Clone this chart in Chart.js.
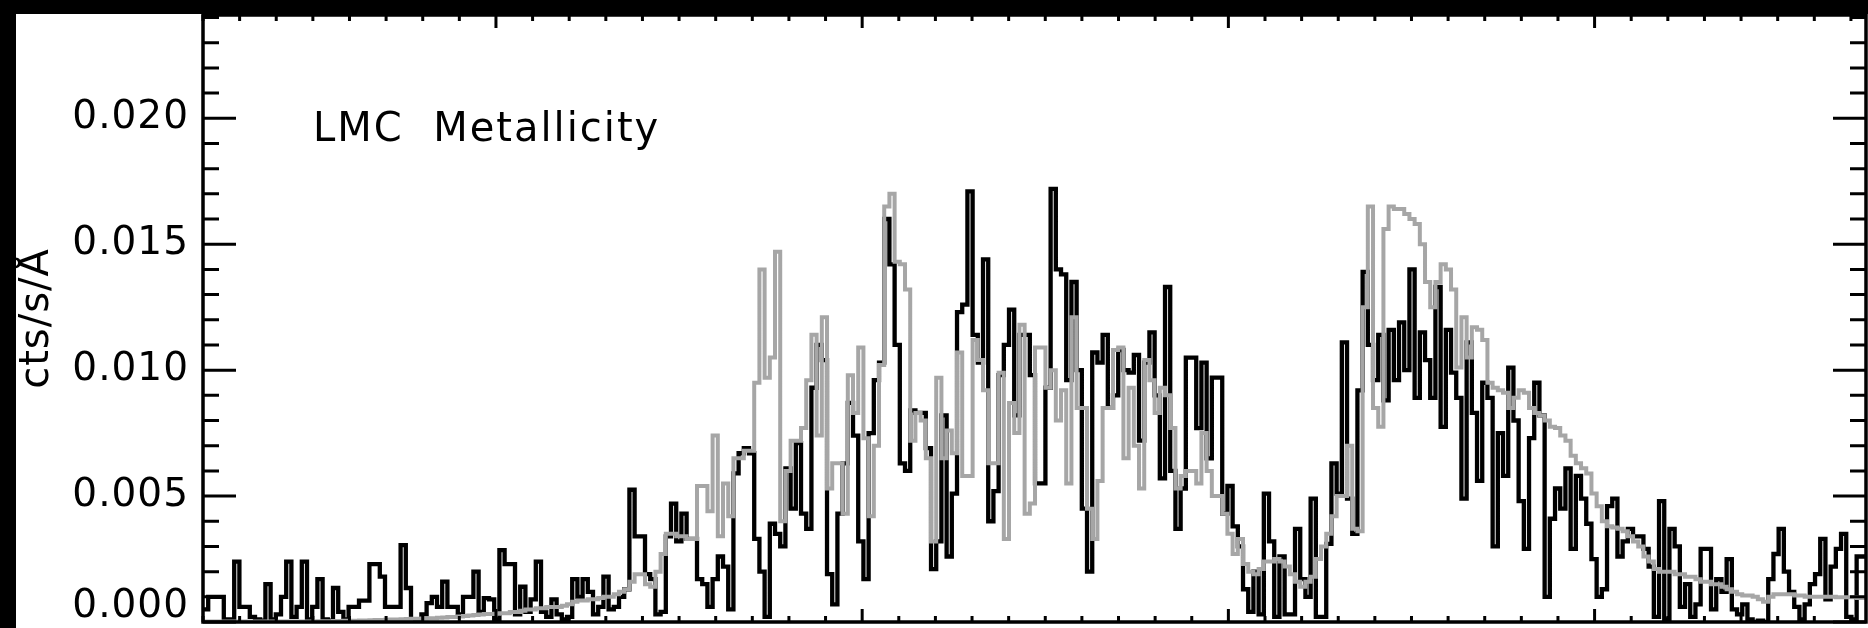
<!DOCTYPE html>
<html>
<head>
<meta charset="utf-8">
<title>LMC Metallicity</title>
<script src="https://cdn.jsdelivr.net/npm/chart.js@4.4.1/dist/chart.umd.min.js"></script>
<style>
  html, body { margin: 0; padding: 0; background: #000; }
  #spectrum { display: block; }
</style>
</head>
<body>
<canvas id="spectrum" width="1868" height="628"></canvas>
<script>
// wavelength grid (Å): left edge of first bin, bin width
const lamStart = 2.0;
const binWidth = 0.142;

// observed counts, black histogram (units of 1e-3 cts/s/Å)
const observed = [
  0.5, 1.0, 1.0, 1.0, 0.1, 0.1, 2.4, 0.6, 0.6, 0.2,
  0.1, 0.05, 1.5, 0.1, 0.3, 1.0, 2.4, 0.2, 0.6, 2.4,
  0.1, 0.6, 1.7, 0.1, 0.05, 1.35, 0.4, 0.1, 0.6, 0.6,
  0.85, 0.85, 2.3, 2.3, 1.8, 0.6, 0.6, 0.6, 3.05, 1.35,
  0.1, 0.1, 0.3, 0.75, 1.0, 0.6, 1.6, 0.6, 0.6, 0.3,
  1.0, 1.0, 2.0, 0.4, 0.95, 0.9, 0.1, 2.85, 2.3, 2.3,
  0.3, 1.4, 0.4, 0.9, 2.4, 0.4, 0.2, 0.9, 0.3, 0.1,
  0.2, 1.7, 1.0, 1.7, 1.2, 0.3, 0.6, 1.8, 0.5, 0.6,
  1.0, 1.3, 5.25, 3.4, 3.4, 1.9, 1.7, 0.3, 0.4, 3.4,
  4.7, 3.2, 4.3, 3.3, 3.3, 1.7, 1.5, 0.6, 1.7, 2.6,
  2.2, 0.5, 5.9, 6.7, 6.9, 6.7, 3.3, 2.0, 0.2, 3.9,
  3.5, 3.0, 6.1, 4.5, 7.1, 4.3, 3.7, 9.3, 11.0, 10.4,
  1.9, 0.7, 4.3, 6.3, 8.7, 7.4, 3.2, 1.7, 7.5, 9.6,
  10.3, 16.0, 14.2, 11.0, 6.3, 6.0, 8.4, 8.3, 8.3, 6.9,
  2.1, 3.2, 8.2, 2.6, 5.1, 12.3, 12.6, 17.1, 11.4, 10.3,
  14.4, 4.0, 5.2, 9.8, 11.0, 12.4, 8.2, 11.4, 11.4, 9.8,
  5.5, 5.5, 9.3, 17.2, 14.0, 13.8, 9.6, 13.5, 10.0, 4.5,
  2.0, 10.7, 10.3, 11.4, 8.5, 9.0, 10.8, 10.0, 9.9, 10.6,
  7.2, 10.3, 11.5, 9.0, 5.7, 13.3, 6.0, 3.7, 5.3, 10.5,
  10.5, 7.7, 10.3, 6.5, 9.7, 9.7, 4.3, 5.4, 3.8, 3.0,
  1.3, 0.4, 2.0, 0.3, 5.1, 3.2, 0.2, 2.6, 0.3, 0.3,
  3.7, 1.7, 1.0, 4.9, 0.2, 0.2, 3.1, 6.3, 5.1, 11.1,
  4.9, 3.5, 9.2, 13.9, 11.0, 9.6, 11.4, 8.8, 11.6, 9.6,
  11.9, 10.0, 14.0, 8.9, 11.5, 10.4, 8.9, 13.3, 7.75, 11.6,
  9.9, 8.9, 4.9, 11.1, 8.3, 5.6, 9.5, 8.9, 3.0, 7.5,
  5.8, 10.1, 8.0, 4.8, 2.9, 7.3, 9.5, 8.2, 1.0, 4.1,
  5.3, 4.5, 6.1, 2.9, 5.8, 4.9, 3.9, 2.5, 1.0, 1.3,
  4.6, 4.9, 2.6, 3.2, 3.7, 3.4, 3.4, 2.9, 2.2, 0.2,
  4.8, 0.1, 3.7, 3.0, 0.6, 1.5, 0.2, 0.7, 2.9, 2.9,
  0.5, 1.7, 1.2, 2.5, 0.5, 0.3, 0.7, 0.1, 0.0, 0.05,
  0.0, 1.7, 2.7, 3.7, 2.0, 1.2, 0.6, 0.1, 0.7, 1.5,
  1.9, 3.3, 0.9, 2.2, 2.9, 3.5, 0.2, 0.1, 2.6, 2.6, 2.6
];

// model, grey histogram (same units)
const model = [
  0.02, 0.02, 0.02, 0.02, 0.02, 0.02, 0.02, 0.02, 0.02, 0.02,
  0.02, 0.02, 0.02, 0.02, 0.02, 0.02, 0.02, 0.02, 0.02, 0.02,
  0.02, 0.02, 0.03, 0.03, 0.03, 0.04, 0.04, 0.05, 0.05, 0.05,
  0.06, 0.06, 0.07, 0.08, 0.08, 0.09, 0.1, 0.1, 0.11, 0.12,
  0.13, 0.13, 0.14, 0.15, 0.15, 0.17, 0.18, 0.2, 0.2, 0.22,
  0.24, 0.26, 0.28, 0.3, 0.32, 0.32, 0.33, 0.35, 0.35, 0.4,
  0.4, 0.45, 0.5, 0.5, 0.55, 0.55, 0.6, 0.6, 0.6, 0.65,
  0.7, 0.8, 0.85, 0.85, 0.9, 0.9, 0.95, 1.0, 1.0, 1.1,
  1.2, 1.3, 1.6, 1.9, 1.9, 1.5, 1.4, 2.0, 2.7, 3.5,
  3.5, 3.4, 3.4, 3.3, 3.3, 5.4, 5.4, 4.4, 7.4, 3.4,
  5.5, 4.2, 6.5, 6.5, 6.8, 6.8, 9.5, 14.0, 9.7, 10.5,
  14.7, 4.0, 6.0, 7.2, 7.2, 7.7, 9.6, 11.4, 7.4, 12.1,
  5.3, 6.3, 6.3, 4.3, 9.8, 8.3, 10.9, 7.3, 4.2, 7.0,
  10.2, 16.5, 17.0, 14.3, 14.2, 13.2, 7.2, 8.3, 8.0, 6.5,
  3.2, 9.7, 6.5, 7.6, 6.7, 10.7, 5.8, 5.8, 11.2, 10.4,
  9.2, 6.3, 6.3, 9.9, 3.3, 8.7, 7.5, 11.8, 4.3, 4.7,
  10.9, 10.9, 9.3, 10.0, 8.0, 9.2, 5.5, 12.1, 8.5, 8.5,
  4.5, 3.3, 5.6, 8.5, 8.5, 10.8, 10.9, 6.5, 9.3, 7.0,
  5.3, 10.4, 9.6, 8.3, 9.3, 9.0, 7.7, 5.3, 5.8, 6.0,
  6.0, 5.5, 7.5, 6.0, 5.0, 5.0, 4.3, 3.5, 2.7, 3.3,
  2.3, 2.0, 1.9, 2.1, 2.4, 2.4, 2.5, 2.4, 2.2, 1.9,
  1.6, 1.4, 1.6, 1.8, 2.5, 3.0, 3.5, 4.2, 5.0, 5.0,
  7.0, 3.7, 3.6, 12.5, 16.5, 8.5, 7.75, 15.6, 16.5, 16.4,
  16.4, 16.2, 16.0, 15.8, 15.0, 13.5, 12.5, 13.5, 14.2, 14.0,
  13.2, 10.1, 12.1, 10.5, 11.7, 11.6, 11.2, 9.5, 9.3, 9.2,
  9.1, 8.5, 8.9, 9.2, 9.1, 8.5, 8.3, 8.2, 8.0, 7.75,
  7.7, 7.4, 7.2, 6.6, 6.3, 6.1, 5.9, 5.1, 4.6, 4.0,
  3.8, 3.75, 3.7, 3.6, 3.4, 3.2, 3.0, 2.6, 2.4, 2.1,
  2.0, 2.0, 2.0, 1.9, 1.9, 1.8, 1.8, 1.7, 1.6, 1.6,
  1.5, 1.5, 1.4, 1.3, 1.2, 1.1, 1.05, 1.05, 1.0, 0.9,
  0.8, 1.0, 1.1, 1.1, 1.1, 1.1, 1.05, 1.05, 1.0, 1.0,
  1.0, 1.0, 1.0, 1.0, 0.98, 0.98, 0.98, 0.98, 0.95, 0.95, 0.95
];

const yTickValues = [0, 5, 10, 15, 20];
const yTickLabels = ['0.000', '0.005', '0.010', '0.015', '0.020'];
const yTitle = 'cts/s/Å';
const panelLabel = 'LMC  Metallicity';

const toPoints = vals => vals.map((v, i) => ({ x: lamStart + i * binWidth, y: v }));

// white page, inward IDL-style ticks on all four sides, panel label
const frame = {
  id: 'frame',
  beforeDraw(chart) {
    const ctx = chart.ctx;
    ctx.save();
    ctx.fillStyle = '#000';
    ctx.fillRect(0, 0, chart.width, chart.height);
    ctx.fillStyle = '#fff';
    ctx.fillRect(16, 14, chart.width - 16, chart.height - 14);
    ctx.restore();
    ctx.letterSpacing = '1px';
  },
  afterDraw(chart) {
    const { ctx, chartArea: a, scales: { x, y } } = chart;
    ctx.save();
    ctx.strokeStyle = '#000';
    ctx.lineWidth = 3;
    ctx.beginPath();
    for (let v = 0; v <= y.max; v++) {
      const py = y.getPixelForValue(v);
      const len = v % 5 === 0 ? 33 : 16;
      ctx.moveTo(a.left, py); ctx.lineTo(a.left + len, py);
      ctx.moveTo(a.right, py); ctx.lineTo(a.right - len, py);
    }
    for (let w = Math.ceil(x.min); w <= x.max; w++) {
      const px = x.getPixelForValue(w);
      const len = w % 10 === 0 ? 13 : 6;
      ctx.moveTo(px, a.top); ctx.lineTo(px, a.top + len);
      ctx.moveTo(px, a.bottom); ctx.lineTo(px, a.bottom - len);
    }
    ctx.stroke();
    ctx.lineWidth = 3.5;
    ctx.strokeRect(a.left, a.top, a.right - a.left, a.bottom - a.top);

    ctx.letterSpacing = '2px';
    ctx.fillStyle = '#000';
    ctx.font = '40px "DejaVu Sans"';
    ctx.textAlign = 'left';
    ctx.textBaseline = 'alphabetic';
    ctx.fillText(panelLabel, a.left + 110, a.top + 126);
    ctx.restore();
  }
};

new Chart(document.getElementById('spectrum'), {
  type: 'line',
  data: {
    datasets: [
      {
        label: 'model',
        data: toPoints(model),
        borderColor: '#a6a6a6',
        borderWidth: 4,
        stepped: true,
        pointRadius: 0,
        fill: false
      },
      {
        label: 'observed',
        data: toPoints(observed),
        borderColor: '#000',
        borderWidth: 4.3,
        stepped: true,
        pointRadius: 0,
        fill: false
      }
    ]
  },
  options: {
    responsive: false,
    animation: false,
    devicePixelRatio: 1,
    layout: { padding: { left: 0, top: 15, right: 2, bottom: 6 } },
    plugins: { legend: { display: false }, tooltip: { enabled: false } },
    scales: {
      x: {
        type: 'linear',
        display: false,
        min: lamStart,
        max: lamStart + 319.8 * binWidth
      },
      y: {
        min: 0,
        max: 24.1,
        afterBuildTicks: s => { s.ticks = yTickValues.map(v => ({ value: v })); },
        afterFit: s => { s.width = 203; s.paddingTop = 0; s.paddingBottom = 0; },
        grid: { display: false, drawTicks: false },
        border: { display: false },
        ticks: {
          color: '#000',
          padding: 14,
          font: { family: 'DejaVu Sans', size: 39, lineHeight: 0.8 },
          // the bottom label sits just above the axis, as in the original plot
          callback: v => v === 0 ? [yTickLabels[0], ''] : yTickLabels[yTickValues.indexOf(v)]
        },
        title: {
          display: true,
          text: yTitle,
          color: '#000',
          font: { family: 'DejaVu Sans', size: 40 },
          padding: { top: 14, bottom: 0 }
        }
      }
    }
  },
  plugins: [frame]
});
</script>
</body>
</html>
